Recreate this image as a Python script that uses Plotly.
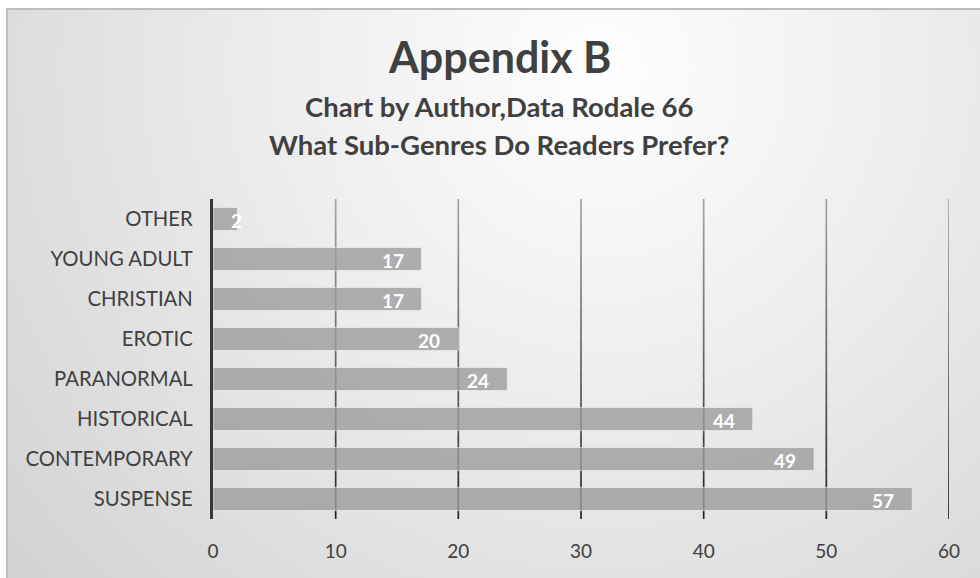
import base64
import plotly.graph_objects as go

# Survey results: preferred romance sub-genres (bottom to top)
genres = ["SUSPENSE", "CONTEMPORARY", "HISTORICAL", "PARANORMAL",
          "EROTIC", "CHRISTIAN", "YOUNG ADULT", "OTHER"]
counts = [57, 49, 44, 24, 20, 17, 17, 2]
x_ticks = [0, 10, 20, 30, 40, 50, 60]

W, H = 980, 578
L, R, T, B = 213, 31, 199, 59
plot_w = W - L - R
plot_h = H - T - B
x_max = 60
px_per_unit = plot_w / x_max

# soft radial backdrop with a thin frame
svg = f"""<svg xmlns='http://www.w3.org/2000/svg' width='{W}' height='{H}' viewBox='0 0 {W} {H}'>
<defs><radialGradient id='g' gradientUnits='userSpaceOnUse' cx='600' cy='70' r='760'>
<stop offset='0' stop-color='#fefefe'/><stop offset='0.45' stop-color='#ececec'/>
<stop offset='1' stop-color='#d3d3d3'/></radialGradient></defs>
<rect x='0' y='0' width='{W}' height='{H}' fill='#ffffff'/>
<rect x='7' y='9' width='{W}' height='{H}' fill='url(#g)' stroke='#bdbdbd' stroke-width='2'/>
</svg>"""
bg_uri = "data:image/svg+xml;base64," + base64.b64encode(svg.encode()).decode()

fig = go.Figure(
    go.Bar(
        x=counts,
        y=genres,
        orientation="h",
        marker=dict(color="rgba(156,156,156,0.8)",
                    line=dict(color="rgba(255,255,255,0.55)", width=1)),
        hoverinfo="x+y",
    )
)

# value labels: inside the bar end with padding; too-short bars get them at the base
pad = 16
label_font = dict(family="Lato", size=19, color="white", weight="bold")
annotations = []
for g, v in zip(genres, counts):
    txt = str(v)
    fits = v * px_per_unit >= 2 * pad + 11 * len(txt)
    annotations.append(dict(
        x=v if fits else 0, y=g, xref="x", yref="y", text=txt,
        showarrow=False, xanchor="right" if fits else "left",
        xshift=-pad if fits else pad, yshift=-1, font=label_font))

# chart titles
titles = [("<b>Appendix B</b>", 43, 57),
          ("<b>Chart by Author,Data Rodale 66</b>", 27.5, 106),
          ("<b>What Sub-Genres Do Readers Prefer?</b>", 27.5, 144)]
for txt, size, ypix in titles:
    annotations.append(dict(
        text=txt, xref="paper", yref="paper",
        x=(499 - L) / plot_w, y=1 + (T - ypix) / plot_h,
        showarrow=False, xanchor="center", yanchor="middle",
        font=dict(family="Lato", size=size, color="#404040")))

# vertical gridlines that darken toward the bottom
shapes = []
n_seg = 30
top_c, bot_c = 0xa4, 0x22
for t in x_ticks[1:]:
    for i in range(n_seg):
        f = (i + 0.5) / n_seg
        c = int(round(bot_c + (top_c - bot_c) * f))
        shapes.append(dict(
            type="line", xref="x", yref="paper", x0=t, x1=t,
            y0=i / n_seg, y1=(i + 1) / n_seg, layer="below",
            line=dict(color=f"rgb({c},{c},{c})", width=1.7)))

fig.update_layout(
    width=W, height=H,
    margin=dict(l=L, r=R, t=T, b=B),
    paper_bgcolor="rgba(0,0,0,0)",
    plot_bgcolor="rgba(0,0,0,0)",
    bargap=0.42,
    showlegend=False,
    font=dict(family="Lato", color="#404040"),
    images=[dict(source=bg_uri, xref="paper", yref="paper",
                 x=-L / plot_w, y=1 + T / plot_h,
                 sizex=W / plot_w, sizey=H / plot_h,
                 xanchor="left", yanchor="top", sizing="stretch",
                 layer="below")],
    annotations=annotations,
    shapes=shapes,
)

fig.update_xaxes(
    range=[0, x_max],
    tickvals=x_ticks,
    showgrid=False, zeroline=False, showline=False,
    ticks="", ticklabelstandoff=19,
    tickfont=dict(family="Lato", size=19, color="#404040"),
)
fig.update_yaxes(
    categoryorder="array", categoryarray=genres,
    showgrid=False, zeroline=False,
    showline=True, linecolor="#383838", linewidth=3.3,
    ticks="", ticklabelstandoff=13,
    tickfont=dict(family="Lato", size=20.3, color="#404040"),
)

fig.write_html("out.html")
